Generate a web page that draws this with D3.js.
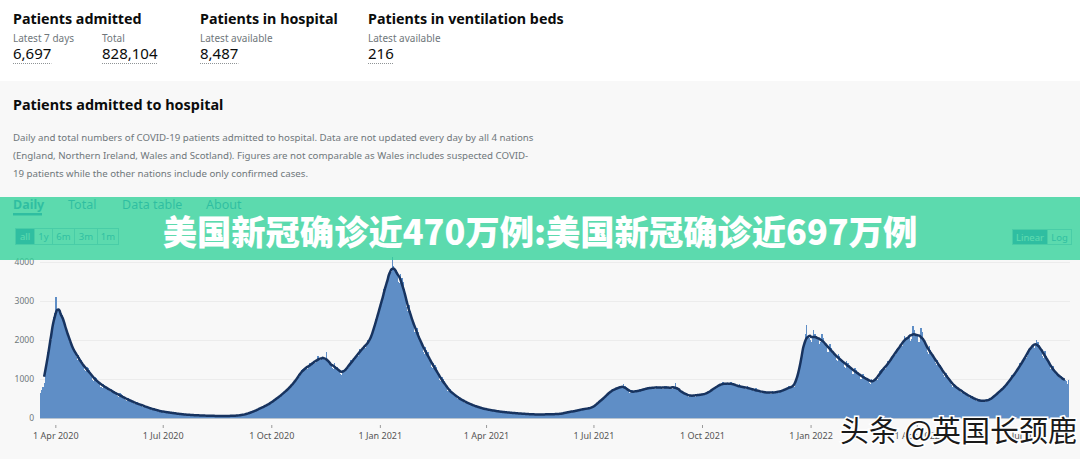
<!DOCTYPE html>
<html>
<head>
<meta charset="utf-8">
<script src="https://cdn.jsdelivr.net/npm/d3@7"></script>
<style>
  html, body { margin: 0; padding: 0; background: #fff; }
  svg { display: block; font-family: "Noto Sans", "Open Sans", sans-serif; }
</style>
</head>
<body>
<script>
// ---- data ----
var startDate = "2020-03-19";
// daily admissions, one row per week (Thu..Wed)
var dailyAdmissions = [
  640, 720, 800, 900, 1200, 1450, 1700,
  1750, 1900, 2000, 2200, 2600, 2700, 3110,
  2800, 2750, 2750, 2700, 2650, 2550, 2450,
  2380, 2300, 2100, 1950, 2000, 1900, 1850,
  1780, 1700, 1560, 1500, 1620, 1560, 1480,
  1420, 1360, 1220, 1200, 1320, 1280, 1230,
  1160, 1090, 980, 960, 1060, 1020, 960,
  930, 890, 800, 780, 880, 850, 820,
  780, 750, 680, 660, 740, 720, 690,
  660, 620, 560, 540, 630, 610, 580,
  540, 510, 450, 440, 520, 500, 470,
  440, 410, 360, 350, 420, 400, 380,
  350, 330, 290, 280, 340, 320, 300,
  270, 250, 220, 210, 260, 245, 230,
  205, 190, 165, 160, 195, 185, 170,
  160, 150, 135, 130, 155, 148, 140,
  128, 120, 106, 102, 122, 116, 110,
  100, 95, 84, 80, 96, 92, 86,
  82, 78, 70, 68, 80, 76, 72,
  70, 68, 60, 58, 70, 66, 62,
  62, 60, 54, 52, 62, 60, 56,
  56, 54, 48, 46, 56, 54, 50,
  54, 52, 48, 46, 56, 54, 54,
  58, 56, 52, 54, 64, 62, 62,
  68, 70, 70, 76, 92, 94, 96,
  110, 118, 122, 132, 160, 168, 172,
  190, 200, 205, 220, 260, 268, 275,
  290, 300, 305, 320, 370, 375, 380,
  410, 430, 440, 460, 520, 530, 540,
  570, 590, 600, 620, 700, 710, 720,
  750, 780, 790, 820, 920, 940, 950,
  1000, 1050, 1060, 1100, 1240, 1250, 1260,
  1250, 1280, 1260, 1300, 1420, 1400, 1380,
  1400, 1430, 1420, 1470, 1590, 1540, 1500,
  1520, 1560, 1480, 1500, 1700, 1480, 1400,
  1420, 1380, 1280, 1260, 1400, 1340, 1300,
  1240, 1200, 1130, 1100, 1230, 1180, 1210,
  1280, 1300, 1290, 1340, 1480, 1460, 1480,
  1540, 1560, 1560, 1600, 1760, 1720, 1740,
  1800, 1830, 1800, 1840, 2000, 1940, 1960,
  2050, 2150, 2200, 2300, 2550, 2600, 2650,
  2750, 2900, 2950, 3050, 3300, 3350, 3400,
  3600, 3700, 3650, 3750, 4130, 3900, 3850,
  3800, 3750, 3500, 3450, 3700, 3600, 3500,
  3300, 3100, 2850, 2750, 2900, 2750, 2650,
  2550, 2450, 2200, 2100, 2300, 2200, 2100,
  1980, 1900, 1700, 1650, 1820, 1740, 1680,
  1550, 1480, 1320, 1280, 1420, 1350, 1300,
  1180, 1120, 980, 940, 1040, 990, 950,
  850, 800, 690, 670, 740, 700, 660,
  620, 590, 520, 500, 560, 530, 500,
  470, 450, 390, 380, 430, 410, 390,
  360, 350, 300, 295, 330, 320, 300,
  285, 270, 235, 230, 260, 250, 235,
  230, 220, 195, 190, 210, 205, 195,
  190, 180, 160, 155, 175, 170, 162,
  160, 152, 136, 132, 150, 145, 138,
  138, 132, 118, 114, 130, 125, 120,
  120, 116, 104, 100, 114, 110, 105,
  104, 100, 90, 86, 100, 96, 92,
  96, 94, 86, 84, 98, 94, 92,
  96, 94, 88, 88, 102, 100, 98,
  100, 98, 92, 94, 108, 106, 104,
  112, 114, 110, 118, 146, 150, 154,
  158, 160, 152, 160, 186, 184, 186,
  196, 200, 196, 206, 234, 232, 236,
  236, 240, 230, 240, 270, 268, 272,
  300, 320, 330, 360, 430, 440, 460,
  480, 500, 510, 540, 620, 640, 660,
  680, 700, 690, 710, 780, 770, 760,
  790, 800, 760, 780, 860, 820, 790,
  740, 700, 640, 630, 720, 690, 680,
  690, 680, 660, 680, 740, 730, 720,
  730, 740, 720, 740, 800, 790, 780,
  770, 780, 740, 750, 830, 800, 790,
  780, 770, 740, 750, 820, 810, 790,
  780, 770, 740, 750, 800, 790, 900,
  770, 740, 680, 660, 700, 670, 650,
  630, 610, 560, 550, 600, 580, 570,
  580, 580, 550, 560, 620, 610, 600,
  600, 600, 580, 590, 660, 650, 660,
  680, 700, 690, 720, 800, 800, 810,
  820, 840, 820, 850, 920, 910, 880,
  870, 880, 840, 860, 930, 900, 880,
  860, 840, 780, 790, 860, 820, 800,
  810, 790, 740, 750, 820, 780, 760,
  760, 740, 680, 690, 760, 720, 700,
  700, 690, 640, 630, 700, 670, 660,
  660, 650, 610, 620, 690, 670, 660,
  660, 660, 640, 660, 730, 710, 700,
  710, 720, 720, 750, 820, 810, 800,
  790, 790, 800, 860, 1000, 1150, 1300,
  1400, 1550, 1700, 1900, 2150, 2380, 2100,
  2050, 2000, 1950, 2050, 2250, 2150, 2100,
  2050, 2000, 1900, 1950, 2150, 2050, 1950,
  1900, 1850, 1700, 1700, 1900, 1800, 1720,
  1680, 1620, 1480, 1460, 1650, 1580, 1520,
  1500, 1440, 1300, 1280, 1460, 1400, 1360,
  1320, 1270, 1140, 1120, 1290, 1230, 1190,
  1160, 1110, 1000, 980, 1130, 1080, 1040,
  1020, 980, 890, 870, 1000, 960, 940,
  960, 990, 980, 1020, 1200, 1220, 1250,
  1240, 1270, 1260, 1300, 1460, 1460, 1480,
  1520, 1560, 1560, 1620, 1780, 1760, 1780,
  1820, 1860, 1850, 1920, 2100, 2060, 2080,
  2050, 2080, 1980, 2030, 2350, 2250, 2150,
  2150, 2100, 1950, 1950, 2320, 2200, 2050,
  1950, 1900, 1700, 1650, 1850, 1750, 1680,
  1620, 1560, 1400, 1360, 1500, 1420, 1370,
  1300, 1240, 1100, 1060, 1160, 1100, 1060,
  1000, 950, 840, 800, 880, 840, 800,
  780, 750, 670, 650, 720, 690, 660,
  620, 600, 540, 520, 580, 560, 530,
  510, 490, 440, 430, 480, 460, 440,
  450, 440, 410, 420, 480, 470, 460,
  480, 500, 500, 530, 620, 630, 650,
  650, 680, 680, 720, 820, 820, 840,
  860, 900, 920, 970, 1100, 1100, 1120,
  1140, 1180, 1200, 1260, 1420, 1420, 1450,
  1470, 1520, 1540, 1600, 1780, 1800, 1820,
  1850, 1880, 1800, 1860, 2000, 1950, 1880,
  1800, 1740, 1600, 1550, 1720, 1600, 1520,
  1460, 1400, 1250, 1200, 1330, 1240, 1180,
  1150, 1120, 1020, 990, 1080, 1050, 1000,
  980, 960, 880, 970
];
var yTicks = [0, 1000, 2000, 3000, 4000];
var xTickDates = ["2020-04-01", "2020-07-01", "2020-10-01", "2021-01-01", "2021-04-01",
                  "2021-07-01", "2021-10-01", "2022-01-01", "2022-04-01", "2022-07-01"];
var headlineLabels = ["Patients admitted", "Patients in hospital", "Patients in ventilation beds"];
var headlineSubLabels = ["Latest 7 days", "Total", "Latest available", "Latest available"];
var headlineValues = ["6,697", "828,104", "8,487", "216"];
var tabLabels = ["Daily", "Total", "Data table", "About"];
var rangeButtons = ["all", "1y", "6m", "3m", "1m"];
var scaleButtons = ["Linear", "Log"];
var descLines = [
  "Daily and total numbers of COVID-19 patients admitted to hospital. Data are not updated every day by all 4 nations",
  "(England, Northern Ireland, Wales and Scotland). Figures are not comparable as Wales includes suspected COVID-",
  "19 patients while the other nations include only confirmed cases."
];
var bannerText = "美国新冠确诊近470万例:美国新冠确诊近697万例";
var watermarkText = "头条 @英国长颈鹿";

var W = 1080, H = 459;
var parseDate = d3.timeParse("%Y-%m-%d");
var formatTick = d3.timeFormat("%-d %b %Y");

var svg = d3.select("body").append("svg")
    .attr("width", W)
    .attr("height", H);

// backgrounds
svg.append("rect").attr("x", 0).attr("y", 0).attr("width", W).attr("height", H).attr("fill", "#f8f8f8");
svg.append("rect").attr("x", 0).attr("y", 0).attr("width", W).attr("height", 81).attr("fill", "#ffffff");

// ---- headline numbers ----
var head = svg.append("g").attr("id", "headlines");
var headX = [13, 200, 368];
head.selectAll("text.hl").data(headlineLabels).enter().append("text")
    .attr("class", "hl")
    .attr("x", function(d, i) { return headX[i]; })
    .attr("y", 24)
    .attr("font-size", 14.3)
    .attr("font-weight", 700)
    .attr("fill", "#0b0c0c")
    .text(function(d) { return d; });

var subX = [13, 102, 200, 368];
head.selectAll("text.sub").data(headlineSubLabels).enter().append("text")
    .attr("class", "sub")
    .attr("x", function(d, i) { return subX[i]; })
    .attr("y", 42)
    .attr("font-size", 10)
    .attr("fill", "#6f777b")
    .text(function(d) { return d; });

var vals = head.selectAll("g.val").data(headlineValues).enter().append("g").attr("class", "val");
vals.append("text")
    .attr("x", function(d, i) { return subX[i]; })
    .attr("y", 59)
    .attr("font-size", 15)
    .attr("fill", "#0b0c0c")
    .text(function(d) { return d; })
    .each(function(d, i) {
        var w = this.getComputedTextLength();
        d3.select(this.parentNode).append("line")
            .attr("x1", subX[i]).attr("x2", subX[i] + w)
            .attr("y1", 63.5).attr("y2", 63.5)
            .attr("stroke", "#8f9496").attr("stroke-width", 1)
            .attr("stroke-dasharray", "1,1");
    });

// ---- card title and description ----
svg.append("text")
    .attr("x", 13).attr("y", 110)
    .attr("font-size", 14.4).attr("font-weight", 700).attr("fill", "#0b0c0c")
    .text("Patients admitted to hospital");

svg.append("g").selectAll("text").data(descLines).enter().append("text")
    .attr("x", 13)
    .attr("y", function(d, i) { return 141 + i * 18; })
    .attr("font-size", 9.7)
    .attr("fill", "#6f777b")
    .text(function(d) { return d; });

// ---- tabs ----
var tabX = [13, 68, 122, 206];
svg.append("g").selectAll("text").data(tabLabels).enter().append("text")
    .attr("x", function(d, i) { return tabX[i]; })
    .attr("y", 209)
    .attr("font-size", 12.5)
    .attr("font-weight", function(d, i) { return i == 0 ? 700 : 400; })
    .attr("fill", "#1d70b8")
    .text(function(d) { return d; });
svg.append("rect").attr("x", 13).attr("y", 213).attr("width", 29).attr("height", 2.5).attr("fill", "#1d70b8");

// range buttons
var rbEdges = [15, 34, 52, 74, 97, 118];
var rb = svg.append("g").attr("id", "range-buttons");
rb.selectAll("rect").data(rangeButtons).enter().append("rect")
    .attr("x", function(d, i) { return rbEdges[i] + 0.5; })
    .attr("y", 228.5)
    .attr("width", function(d, i) { return rbEdges[i + 1] - rbEdges[i]; })
    .attr("height", 16)
    .attr("fill", function(d, i) { return i == 0 ? "#1d70b8" : "none"; })
    .attr("stroke", "#9bbad6");
rb.selectAll("text").data(rangeButtons).enter().append("text")
    .attr("x", function(d, i) { return (rbEdges[i] + rbEdges[i + 1]) / 2 + 0.5; })
    .attr("y", 240)
    .attr("text-anchor", "middle")
    .attr("font-size", 9.5)
    .attr("fill", function(d, i) { return i == 0 ? "#ffffff" : "#1d70b8"; })
    .text(function(d) { return d; });

var sbEdges = [1012, 1047, 1071];
var sb = svg.append("g").attr("id", "scale-buttons");
sb.selectAll("rect").data(scaleButtons).enter().append("rect")
    .attr("x", function(d, i) { return sbEdges[i] + 0.5; })
    .attr("y", 229.5)
    .attr("width", function(d, i) { return sbEdges[i + 1] - sbEdges[i]; })
    .attr("height", 15)
    .attr("fill", function(d, i) { return i == 0 ? "#1d70b8" : "none"; })
    .attr("stroke", "#9bbad6");
sb.selectAll("text").data(scaleButtons).enter().append("text")
    .attr("x", function(d, i) { return (sbEdges[i] + sbEdges[i + 1]) / 2 + 0.5; })
    .attr("y", 240.5)
    .attr("text-anchor", "middle")
    .attr("font-size", 9.5)
    .attr("fill", function(d, i) { return i == 0 ? "#ffffff" : "#1d70b8"; })
    .text(function(d) { return d; });

// ---- chart ----
var t0 = parseDate(startDate);
var data = dailyAdmissions.map(function(v, i) {
    return { date: d3.timeDay.offset(t0, i), value: v };
});
var tEnd = d3.timeDay.offset(t0, dailyAdmissions.length);

var xScale = d3.scaleTime().domain([t0, tEnd]).range([40, 1069]);
var yScale = d3.scaleLinear().domain([0, 4000]).range([418, 262]);

// centred 7-day average
var avg = [];
for (var i = 3; i < data.length - 3; i++) {
    var s = 0;
    for (var k = -3; k <= 3; k++) s += data[i + k].value;
    avg.push({ date: data[i].date, value: s / 7 });
}

var chart = svg.append("g").attr("id", "chart");

chart.append("g").attr("class", "grid")
    .selectAll("line").data(yTicks.slice(1)).enter().append("line")
    .attr("x1", 40).attr("x2", 1070)
    .attr("y1", function(d) { return yScale(d) + 0.5; })
    .attr("y2", function(d) { return yScale(d) + 0.5; })
    .attr("stroke", "#ececec");

var step = xScale(d3.timeDay.offset(t0, 1)) - xScale(t0);
chart.append("g").attr("class", "bars")
    .attr("shape-rendering", "crispEdges")
    .selectAll("rect").data(data).enter().append("rect")
    .attr("x", function(d) { return xScale(d.date); })
    .attr("y", function(d) { return yScale(d.value); })
    .attr("width", step + 0.3)
    .attr("height", function(d) { return yScale(0) - yScale(d.value); })
    .attr("fill", "#5f8ec6");

var line = d3.line()
    .x(function(d) { return xScale(d.date) + step / 2; })
    .y(function(d) { return yScale(d.value); })
    .curve(d3.curveMonotoneX);

chart.append("path")
    .datum(avg)
    .attr("d", line)
    .attr("fill", "none")
    .attr("stroke", "#17335f")
    .attr("stroke-width", 2.5)
    .attr("stroke-linejoin", "round");

// axes
var yAxis = d3.axisLeft(yScale).tickValues(yTicks).tickSize(0).tickPadding(0).tickFormat(d3.format("d"));
chart.append("g").attr("class", "y-axis")
    .attr("transform", "translate(34,0)")
    .call(yAxis)
    .call(function(g) { g.select(".domain").remove(); })
    .selectAll("text")
    .attr("font-size", 8.5)
    .attr("fill", "#6f777b")
    .attr("font-family", "Noto Sans, sans-serif");

var xAxis = d3.axisBottom(xScale)
    .tickValues(xTickDates.map(parseDate))
    .tickSize(3)
    .tickPadding(5)
    .tickFormat(formatTick);
chart.append("g").attr("class", "x-axis")
    .attr("transform", "translate(0,425)")
    .call(xAxis)
    .call(function(g) {
        g.select(".domain").remove();
        g.selectAll(".tick line").attr("stroke", "#9a9a9a");
    })
    .selectAll("text")
    .attr("font-size", 9)
    .attr("fill", "#555")
    .attr("font-family", "Noto Sans, sans-serif");

chart.append("line")
    .attr("x1", 40).attr("x2", 1069)
    .attr("y1", 418.5).attr("y2", 418.5)
    .attr("stroke", "#b8c4d0");

// ---- green banner overlay ----
svg.append("rect")
    .attr("x", 0).attr("y", 197)
    .attr("width", W).attr("height", 63)
    .attr("fill", "rgb(53,210,155)")
    .attr("fill-opacity", 0.8);

svg.append("text")
    .attr("x", 540).attr("y", 244.5)
    .attr("text-anchor", "middle")
    .attr("font-family", "Noto Sans CJK SC, sans-serif")
    .attr("font-size", 34.3)
    .attr("font-weight", 900)
    .attr("fill", "#ffffff")
    .text(bannerText);

// ---- watermark ----
svg.append("text")
    .attr("x", 840).attr("y", 442)
    .attr("font-family", "Noto Sans CJK SC, sans-serif")
    .attr("font-size", 29)
    .attr("fill", "#1a1a1a")
    .attr("stroke", "#ffffff")
    .attr("stroke-width", 3)
    .attr("paint-order", "stroke")
    .text(watermarkText);
</script>
</body>
</html>
